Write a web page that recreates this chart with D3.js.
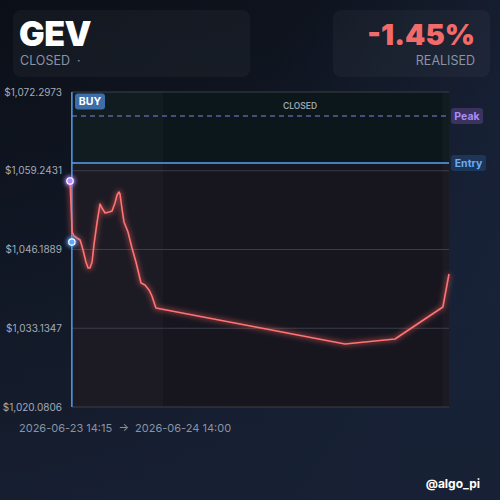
<!DOCTYPE html>
<html>
<head>
<meta charset="utf-8">
<script src="https://cdn.jsdelivr.net/npm/d3@7"></script>
<style>
  html, body { margin: 0; padding: 0; background: #0c1018; }
  svg { display: block; font-family: Inter, "Noto Sans", sans-serif; }
</style>
</head>
<body>
<svg id="chart" width="500" height="500"></svg>
<script>
/* price path */
var TIMES = ["2026-06-23T14:15", "2026-06-23T14:19", "2026-06-23T14:23", "2026-06-23T14:30",
    "2026-06-23T14:41", "2026-06-23T14:53", "2026-06-23T15:04", "2026-06-23T15:15",
    "2026-06-23T15:23", "2026-06-23T15:30", "2026-06-23T15:38", "2026-06-23T15:45",
    "2026-06-23T15:57", "2026-06-23T16:08", "2026-06-23T16:15", "2026-06-23T16:27",
    "2026-06-23T16:42", "2026-06-23T16:53", "2026-06-23T17:04", "2026-06-23T17:12",
    "2026-06-23T17:19", "2026-06-23T17:23", "2026-06-23T17:31", "2026-06-23T17:38",
    "2026-06-23T17:53", "2026-06-23T18:08", "2026-06-23T18:23", "2026-06-23T18:42",
    "2026-06-23T18:57", "2026-06-23T19:12", "2026-06-23T19:23", "2026-06-23T19:38",
    "2026-06-24T07:29", "2026-06-24T10:37", "2026-06-24T13:37", "2026-06-24T14:00"];
var PRICES = [1057.55, 1053.57, 1049.09, 1048.43,
    1048.10, 1047.76, 1046.11, 1044.12,
    1043.12, 1043.12, 1044.12, 1046.94,
    1050.75, 1053.73, 1053.07, 1052.24,
    1052.40, 1052.57, 1053.90, 1055.22,
    1055.72, 1055.39, 1052.74, 1050.75,
    1049.09, 1046.44, 1044.12, 1040.64,
    1040.31, 1039.48, 1038.48, 1036.49,
    1030.52, 1031.35, 1036.66, 1042.13];

var Y_TICKS = [1020.0806, 1033.1347, 1046.1889, 1059.2431, 1072.2973];

var PEAK_PRICE = 1068.32;
var ENTRY_PRICE = 1060.53;
var BUY_TIME = "2026-06-23T14:22";
var BUY_FILL = 1047.43;

/* lighter session bands */
var BAND_STARTS = ["2026-06-23T14:22", "2026-06-24T13:35"];
var BAND_ENDS = ["2026-06-23T20:05", "2026-06-24T14:00"];

var TICKER = "GEV";
var STATUS = "CLOSED";
var RESULT = "-1.45%";

function draw(){
    var parse = d3.timeParse("%Y-%m-%dT%H:%M");
    var points = TIMES.map(function(t, i){ return {t: parse(t), p: PRICES[i]}; });

    var svg = d3.select("#chart");
    var defs = svg.append("defs");

    var bg = defs.append("linearGradient").attr("id", "bg")
        .attr("x1", "0").attr("y1", "0").attr("x2", "1").attr("y2", "0.6");
    bg.append("stop").attr("offset", "0%").attr("stop-color", "#0b0f17");
    bg.append("stop").attr("offset", "45%").attr("stop-color", "#0e131d");
    bg.append("stop").attr("offset", "100%").attr("stop-color", "#1b2740");

    var bg2 = defs.append("linearGradient").attr("id", "bg2")
        .attr("x1", "0").attr("y1", "0").attr("x2", "0").attr("y2", "1");
    bg2.append("stop").attr("offset", "0%").attr("stop-color", "#141c2c").attr("stop-opacity", 0);
    bg2.append("stop").attr("offset", "100%").attr("stop-color", "#172033").attr("stop-opacity", 0.9);

    var glow = defs.append("filter").attr("id", "glow")
        .attr("x", "-20%").attr("y", "-20%").attr("width", "140%").attr("height", "140%");
    glow.append("feGaussianBlur").attr("stdDeviation", 2.5);

    var dotGlow = defs.append("filter").attr("id", "dotglow")
        .attr("x", "-100%").attr("y", "-100%").attr("width", "300%").attr("height", "300%");
    dotGlow.append("feGaussianBlur").attr("stdDeviation", 2);

    svg.append("rect").attr("width", 500).attr("height", 500).attr("fill", "url(#bg)");
    svg.append("rect").attr("width", 500).attr("height", 500).attr("fill", "url(#bg2)");

    /* header cards */
    svg.append("rect").attr("x", 13).attr("y", 10).attr("width", 237).attr("height", 67)
        .attr("rx", 8).attr("fill", "#ffffff").attr("fill-opacity", 0.035);
    svg.append("rect").attr("x", 333).attr("y", 10).attr("width", 157).attr("height", 67)
        .attr("rx", 8).attr("fill", "#ffffff").attr("fill-opacity", 0.035);

    svg.append("text").attr("x", 19).attr("y", 46).text(TICKER)
        .attr("fill", "#ffffff").attr("font-size", 34).attr("font-weight", 900)
        .attr("letter-spacing", -0.5);
    svg.append("text").attr("x", 20).attr("y", 65).text(STATUS + "  \u00b7")
        .attr("fill", "#8a93a3").attr("font-size", 12.5).style("white-space", "pre");

    svg.append("text").attr("x", 475).attr("y", 45).attr("text-anchor", "end").text(RESULT)
        .attr("fill", "#f26b6b").attr("font-size", 29).attr("font-weight", 900);
    svg.append("text").attr("x", 475).attr("y", 65).attr("text-anchor", "end").text("REALISED")
        .attr("fill", "#8a93a3").attr("font-size", 12.5);

    /* plot */
    var pLeft = 72, pRight = 449, pTop = 92, pBottom = 407;
    var x = d3.scaleTime()
        .domain(d3.extent(points, function(d){ return d.t; }))
        .range([70, pRight]);
    var y = d3.scaleLinear()
        .domain([Y_TICKS[0], Y_TICKS[Y_TICKS.length - 1]])
        .range([pBottom, pTop]);

    var g = svg.append("g");

    /* zones: above entry (green tint), below entry (red tint) */
    g.append("rect").attr("x", pLeft).attr("y", pTop)
        .attr("width", pRight - pLeft).attr("height", y(ENTRY_PRICE) - pTop)
        .attr("fill", "#0c171b");
    g.append("rect").attr("x", pLeft).attr("y", y(ENTRY_PRICE))
        .attr("width", pRight - pLeft).attr("height", pBottom - y(ENTRY_PRICE))
        .attr("fill", "#17161f");

    BAND_STARTS.forEach(function(s, i){
        var x0 = x(parse(s)), x1 = x(parse(BAND_ENDS[i]));
        g.append("rect").attr("x", x0).attr("y", pTop)
            .attr("width", x1 - x0).attr("height", pBottom - pTop)
            .attr("fill", "#ffffff").attr("fill-opacity", 0.025);
    });

    /* grid + y labels */
    g.selectAll(".grid").data(Y_TICKS).enter().append("line")
        .attr("x1", pLeft).attr("x2", pRight)
        .attr("y1", function(d){ return y(d); }).attr("y2", function(d){ return y(d); })
        .attr("stroke", "#3a3e4a").attr("stroke-width", 1);

    g.selectAll(".ylab").data(Y_TICKS).enter().append("text")
        .attr("x", 62).attr("y", function(d){ return y(d); }).attr("dy", "0.35em")
        .attr("text-anchor", "end").attr("fill", "#a3abb9").attr("font-size", 10)
        .text(function(d){ return "$" + d3.format(",.4f")(d); });

    /* peak + entry lines */
    g.append("line").attr("x1", pLeft).attr("x2", pRight)
        .attr("y1", y(PEAK_PRICE)).attr("y2", y(PEAK_PRICE))
        .attr("stroke", "#8b7ee0").attr("stroke-width", 1.2).attr("stroke-dasharray", "5,4");
    g.append("line").attr("x1", pLeft).attr("x2", pRight)
        .attr("y1", y(ENTRY_PRICE)).attr("y2", y(ENTRY_PRICE))
        .attr("stroke", "#5aa2f0").attr("stroke-width", 1.3);

    g.append("text").attr("x", 300).attr("y", 109).attr("text-anchor", "middle")
        .text(STATUS).attr("fill", "#9aa3ae").attr("font-size", 8.5).attr("font-weight", 600);

    /* buy line */
    g.append("line").attr("x1", x(parse(BUY_TIME))).attr("x2", x(parse(BUY_TIME)))
        .attr("y1", pTop).attr("y2", pBottom)
        .attr("stroke", "#4f9ef5").attr("stroke-width", 1.5);

    /* price path */
    var line = d3.line()
        .x(function(d){ return x(d.t); })
        .y(function(d){ return y(d.p); });

    g.append("path").datum(points).attr("d", line)
        .attr("fill", "none").attr("stroke", "#f25c5c").attr("stroke-width", 4)
        .attr("stroke-opacity", 0.5).attr("stroke-linejoin", "round")
        .attr("filter", "url(#glow)");
    g.append("path").datum(points).attr("d", line)
        .attr("fill", "none").attr("stroke", "#ff7474").attr("stroke-width", 1.6)
        .attr("stroke-linejoin", "round");

    /* markers */
    var markers = [
        {t: points[0].t, p: points[0].p, c: "#b58cff"},
        {t: parse(BUY_TIME), p: BUY_FILL, c: "#5fa8ff"}
    ];
    markers.forEach(function(m){
        g.append("circle").attr("cx", x(m.t)).attr("cy", y(m.p)).attr("r", 5)
            .attr("fill", m.c).attr("filter", "url(#dotglow)");
        g.append("circle").attr("cx", x(m.t)).attr("cy", y(m.p)).attr("r", 3.2)
            .attr("fill", m.c).attr("stroke", "#ffffff").attr("stroke-width", 1.2);
    });

    /* tags */
    function tag(tx, ty, w, label, fill, color){
        g.append("rect").attr("x", tx).attr("y", ty - 8).attr("width", w).attr("height", 16)
            .attr("rx", 3).attr("fill", fill);
        g.append("text").attr("x", tx + w / 2).attr("y", ty).attr("dy", "0.36em")
            .attr("text-anchor", "middle").attr("fill", color)
            .attr("font-size", 10.5).attr("font-weight", 700).text(label);
    }
    tag(75, 101.5, 30, "BUY", "#3d6ea8", "#ffffff");
    tag(451, y(PEAK_PRICE), 32, "Peak", "#3a335e", "#a98cf5");
    tag(451, y(ENTRY_PRICE), 35, "Entry", "#1d3658", "#69abf5");

    /* footer */
    var fmt = d3.timeFormat("%Y-%m-%d %H:%M");
    svg.append("text").attr("x", 19).attr("y", 432)
        .text(fmt(points[0].t) + "  \u2192  " + fmt(points[points.length - 1].t))
        .attr("fill", "#8a93a3").attr("font-size", 11).style("white-space", "pre");

    svg.append("text").attr("x", 480).attr("y", 488).attr("text-anchor", "end")
        .text("@algo_pi").attr("fill", "#ffffff").attr("font-size", 12).attr("font-weight", 700);
}

draw();
</script>
</body>
</html>
